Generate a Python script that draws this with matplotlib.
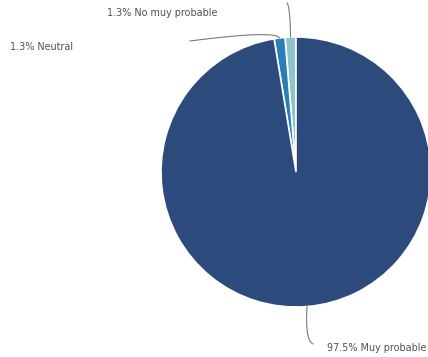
import numpy as np
import matplotlib.pyplot as plt

labels = ["No muy probable", "Neutral", "Muy probable"]
shares = [1.3, 1.3, 97.5]
colors = ["#8ec4cc", "#2a7fb9", "#2c4a7b"]

W, H = 428, 357
fig = plt.figure(figsize=(W / 100, H / 100), dpi=100)
ax = fig.add_axes([0, 0, 1, 1])

cx, cy, r = 296, 357 - 172, 135
wedges, _ = ax.pie(shares, colors=colors, startangle=90, counterclock=True,
                   center=(cx, cy), radius=r, normalize=True,
                   wedgeprops=dict(edgecolor="white", linewidth=1.2))

# label text position and curve shape for each slice
text_pos = [(107, 357 - 13), (10, 357 - 47), (327, 357 - 348)]
elbow = [(290, 357 - 6), (275, 357 - 30), (305, 357 - 340)]
text_kw = dict(fontsize=6.9, color="#505050", family="DejaVu Sans", va="center")

for w, lab, val, tp, el in zip(wedges, labels, shares, text_pos, elbow):
    mid = np.deg2rad((w.theta1 + w.theta2) / 2)
    px, py = cx + r * np.cos(mid), cy + r * np.sin(mid)
    ax.text(tp[0], tp[1], f"{val}% {lab}", **text_kw)
    if lab == "Neutral":
        start = (190, tp[1] + 6)
    elif lab == "No muy probable":
        start = (287, 357 - 3)
    else:
        start = (tp[0] - 14, tp[1] + 4)
    t = np.linspace(0, 1, 30)
    # quadratic bezier from label side through elbow to the slice edge
    bx = (1 - t) ** 2 * start[0] + 2 * (1 - t) * t * el[0] + t ** 2 * px
    by = (1 - t) ** 2 * start[1] + 2 * (1 - t) * t * el[1] + t ** 2 * py
    ax.plot(bx, by, color="#7a7a7a", lw=0.8)

ax.set_xlim(0, W)
ax.set_ylim(0, H)
ax.set_aspect("equal")
ax.axis("off")

fig.savefig("out.png", dpi=100)
